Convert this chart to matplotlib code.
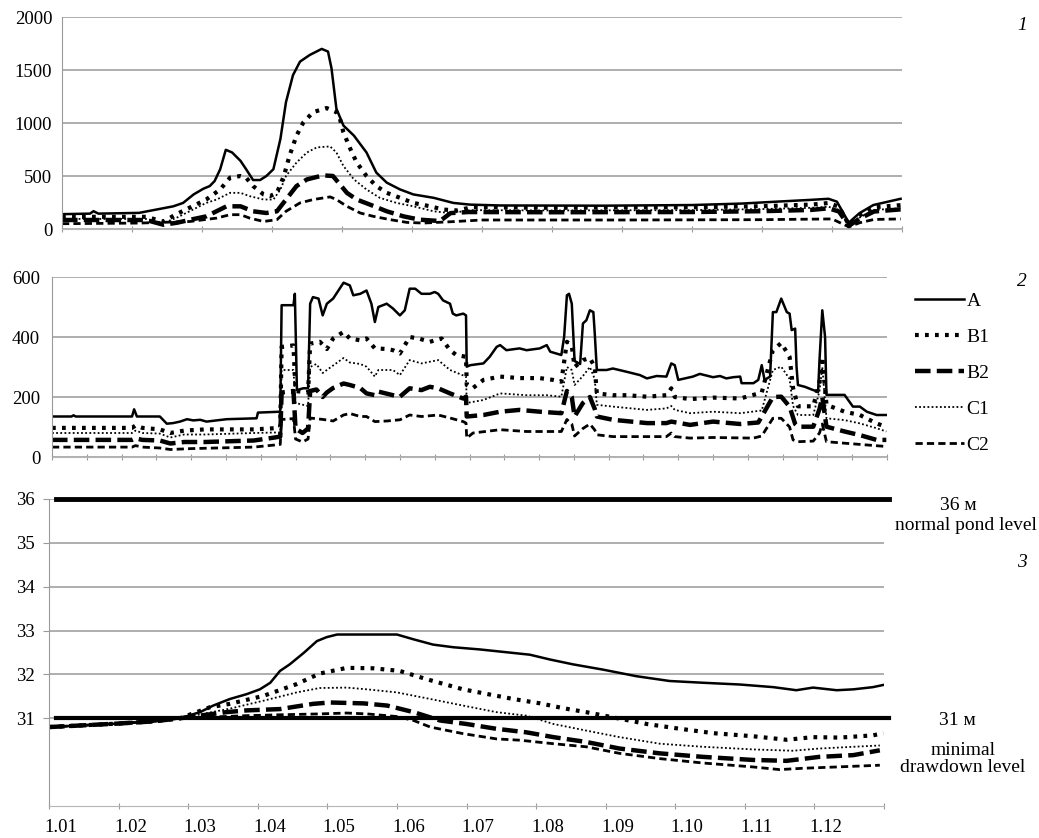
import matplotlib.pyplot as plt
from matplotlib.lines import Line2D

plt.rcParams['font.family'] = ['Liberation Serif', 'DejaVu Serif']
plt.rcParams['font.size'] = 13

# x in months from 1 January (0 .. 12)
month_labels = ['1.01', '1.02', '1.03', '1.04', '1.05', '1.06',
                '1.07', '1.08', '1.09', '1.10', '1.11', '1.12']

# ---- panel 1 : flow, m3/s ----
top_A = [(0, 140), (0.40, 145), (0.45, 168), (0.52, 145), (1.10, 152), (1.59, 214), (1.73, 246),
         (1.88, 326), (2.02, 380), (2.11, 405), (2.18, 452), (2.26, 564), (2.34, 747), (2.43, 722),
         (2.55, 643), (2.63, 564), (2.73, 462), (2.83, 462), (2.92, 500), (3.02, 564), (3.12, 849),
         (3.20, 1198), (3.30, 1452), (3.40, 1579), (3.54, 1642), (3.71, 1699), (3.80, 1674),
         (3.85, 1516), (3.92, 1135), (4.02, 976), (4.17, 881), (4.35, 722), (4.49, 532), (4.64, 437),
         (4.83, 373), (5.02, 326), (5.31, 294), (5.59, 246), (5.83, 230), (6.26, 222), (7.74, 220),
         (9.0, 226), (9.71, 240), (10.21, 258), (10.70, 275), (10.95, 285), (11.07, 258),
         (11.24, 60), (11.39, 148), (11.59, 226), (11.98, 285)]
top_B1 = [(0, 115), (1.2, 115), (1.45, 70), (1.62, 135), (2.06, 278), (2.26, 373), (2.40, 484),
          (2.55, 500), (2.63, 484), (2.73, 405), (2.88, 326), (2.97, 310), (3.07, 341), (3.17, 500),
          (3.25, 690), (3.35, 881), (3.45, 1008), (3.59, 1103), (3.78, 1141), (3.92, 1103),
          (3.97, 1040), (4.02, 913), (4.12, 754), (4.21, 627), (4.35, 500), (4.49, 405), (4.64, 341),
          (4.83, 294), (5.02, 246), (5.26, 214), (5.45, 183), (5.65, 175), (5.85, 205), (7.0, 200),
          (9.0, 205), (10.0, 215), (10.7, 230), (10.95, 245), (11.1, 210), (11.24, 40), (11.4, 130),
          (11.6, 205), (11.98, 225)]
top_B2 = [(0, 85), (1.2, 85), (1.45, 40), (1.65, 60), (1.85, 90), (2.06, 119), (2.35, 214),
          (2.55, 214), (2.73, 167), (2.92, 151), (3.07, 167), (3.20, 278), (3.35, 405), (3.50, 468),
          (3.73, 506), (3.87, 500), (3.97, 421), (4.07, 341), (4.21, 278), (4.40, 230), (4.64, 167),
          (4.88, 119), (5.11, 88), (5.40, 75), (5.55, 150), (5.8, 160), (7.0, 158), (9.0, 160),
          (10.0, 168), (10.7, 180), (10.95, 195), (11.1, 165), (11.24, 30), (11.4, 100),
          (11.6, 165), (11.98, 185)]
top_C1 = [(0, 95), (1.2, 95), (1.45, 55), (1.65, 110), (2.06, 246), (2.21, 278), (2.40, 341),
          (2.55, 341), (2.68, 310), (2.88, 278), (3.02, 278), (3.12, 373), (3.20, 500), (3.35, 627),
          (3.50, 722), (3.64, 770), (3.83, 779), (3.92, 722), (4.02, 595), (4.17, 468), (4.35, 373),
          (4.54, 294), (4.78, 246), (5.02, 214), (5.31, 167), (5.55, 150), (5.85, 178), (7.0, 175),
          (9.0, 178), (10.0, 188), (10.7, 200), (10.95, 210), (11.1, 180), (11.24, 35), (11.4, 110),
          (11.6, 180), (11.98, 195)]
top_C2 = [(0, 50), (1.11, 56), (1.83, 71), (2.21, 103), (2.40, 135), (2.55, 135), (2.68, 103),
          (2.88, 71), (3.07, 88), (3.20, 167), (3.40, 246), (3.59, 278), (3.83, 303), (3.92, 278),
          (4.07, 214), (4.26, 151), (4.45, 119), (4.69, 88), (4.93, 62), (5.16, 56), (5.6, 70),
          (6.0, 85), (8.0, 85), (10.0, 88), (11.0, 95), (11.24, 20), (11.4, 60), (11.6, 90),
          (11.98, 95)]

# ---- panel 2 : flow, m3/s ----
mid_A = [(0, 135), (0.28, 135), (0.31, 139), (0.34, 135), (1.15, 135), (1.18, 159), (1.22, 135),
         (1.55, 135), (1.65, 111), (1.74, 113), (1.84, 118), (1.94, 126), (2.03, 122), (2.13, 124),
         (2.22, 118), (2.51, 126), (2.94, 129), (2.96, 148), (3.28, 151), (3.30, 506), (3.47, 506),
         (3.49, 544), (3.52, 223), (3.61, 229), (3.68, 229), (3.71, 511), (3.75, 533), (3.83, 528),
         (3.89, 472), (3.95, 511), (4.04, 528), (4.19, 581), (4.28, 572), (4.33, 539), (4.43, 544),
         (4.52, 555), (4.59, 511), (4.64, 450), (4.69, 500), (4.81, 511), (4.90, 495), (5.00, 472),
         (5.07, 489), (5.14, 561), (5.22, 561), (5.31, 544), (5.43, 544), (5.50, 550), (5.55, 544),
         (5.62, 522), (5.72, 511), (5.76, 478), (5.81, 472), (5.91, 478), (5.95, 472), (5.96, 301),
         (6.01, 306), (6.20, 312), (6.29, 334), (6.39, 367), (6.44, 373), (6.53, 356), (6.72, 362),
         (6.82, 356), (7.01, 362), (7.11, 373), (7.16, 351), (7.32, 340), (7.36, 400), (7.40, 539),
         (7.43, 544), (7.47, 511), (7.51, 320), (7.59, 310), (7.63, 445), (7.68, 456), (7.73, 489),
         (7.78, 483), (7.80, 412), (7.83, 290), (7.97, 290), (8.06, 295), (8.26, 284), (8.45, 273),
         (8.55, 262), (8.69, 270), (8.83, 268), (8.90, 312), (8.95, 306), (9.00, 257), (9.21, 268),
         (9.31, 277), (9.50, 266), (9.60, 270), (9.69, 262), (9.79, 266), (9.89, 268), (9.91, 246),
         (10.08, 246), (10.15, 257), (10.20, 306), (10.24, 257), (10.32, 268), (10.36, 483),
         (10.41, 483), (10.48, 528), (10.56, 483), (10.60, 478), (10.63, 423), (10.68, 428),
         (10.70, 301), (10.72, 240), (10.82, 234), (10.94, 223), (11.01, 218), (11.03, 323),
         (11.07, 489), (11.11, 400), (11.13, 207), (11.39, 207), (11.51, 168), (11.61, 168),
         (11.71, 151), (11.85, 140), (11.99, 140)]
mid_B1 = [(0, 97), (1.15, 97), (1.20, 105), (1.3, 97), (1.55, 92), (1.70, 80), (1.9, 88), (2.2, 92),
          (2.9, 92), (3.28, 97), (3.30, 367), (3.47, 372), (3.50, 220), (3.68, 215), (3.71, 378),
          (3.85, 384), (3.95, 360), (4.04, 395), (4.19, 417), (4.28, 395), (4.43, 389), (4.52, 395),
          (4.64, 362), (4.81, 360), (4.90, 356), (5.00, 345), (5.14, 400), (5.27, 395), (5.43, 384),
          (5.60, 395), (5.72, 356), (5.81, 340), (5.95, 334), (5.96, 240), (6.05, 230), (6.20, 257),
          (6.44, 268), (6.72, 263), (7.01, 263), (7.20, 257), (7.32, 251), (7.40, 384), (7.47, 370),
          (7.51, 300), (7.63, 323), (7.73, 330), (7.80, 300), (7.83, 212), (8.06, 206), (8.26, 206),
          (8.55, 201), (8.83, 206), (8.90, 229), (8.95, 200), (9.17, 193), (9.50, 198), (9.89, 195),
          (10.08, 207), (10.20, 215), (10.36, 356), (10.48, 380), (10.60, 334), (10.65, 230),
          (10.72, 169), (10.94, 169), (11.03, 250), (11.07, 334), (11.13, 174), (11.39, 151),
          (11.61, 140), (11.85, 112), (11.99, 100)]
mid_B2 = [(0, 57), (1.15, 57), (1.2, 62), (1.3, 57), (1.55, 55), (1.70, 45), (1.9, 50), (2.2, 50),
          (2.9, 55), (3.2, 65), (3.28, 68), (3.30, 215), (3.47, 220), (3.50, 95), (3.60, 80),
          (3.68, 95), (3.71, 220), (3.80, 225), (3.89, 200), (3.95, 215), (4.04, 230), (4.19, 245),
          (4.28, 240), (4.43, 230), (4.52, 212), (4.64, 206), (4.69, 218), (4.90, 206), (5.00, 201),
          (5.14, 229), (5.31, 223), (5.43, 234), (5.55, 229), (5.72, 212), (5.91, 195), (5.95, 201),
          (5.96, 135), (6.20, 140), (6.44, 151), (6.72, 157), (7.01, 151), (7.32, 146), (7.40, 220),
          (7.47, 200), (7.51, 135), (7.63, 180), (7.73, 200), (7.80, 160), (7.83, 135), (8.06, 124),
          (8.55, 113), (8.83, 113), (8.90, 118), (9.17, 107), (9.50, 118), (9.89, 110),
          (10.15, 115), (10.36, 200), (10.48, 201), (10.60, 168), (10.68, 110), (10.72, 101),
          (10.94, 101), (11.03, 160), (11.07, 200), (11.13, 101), (11.39, 85), (11.61, 73),
          (11.85, 57), (11.99, 57)]
mid_C1 = [(0, 80), (1.15, 80), (1.2, 88), (1.3, 80), (1.55, 78), (1.7, 65), (1.9, 75), (2.2, 75),
          (2.9, 80), (3.28, 82), (3.30, 290), (3.47, 290), (3.50, 180), (3.68, 170), (3.71, 300),
          (3.80, 310), (3.89, 280), (3.95, 290), (4.19, 330), (4.28, 315), (4.43, 310), (4.52, 301),
          (4.64, 268), (4.69, 290), (4.90, 290), (5.00, 273), (5.14, 323), (5.31, 312), (5.55, 323),
          (5.72, 290), (5.95, 268), (5.96, 180), (6.20, 190), (6.44, 212), (6.82, 206), (7.11, 206),
          (7.32, 201), (7.40, 300), (7.47, 290), (7.51, 240), (7.63, 270), (7.73, 300), (7.80, 260),
          (7.83, 174), (8.06, 168), (8.55, 157), (8.83, 162), (8.90, 170), (8.95, 157), (9.17, 146),
          (9.50, 151), (9.89, 146), (10.20, 155), (10.36, 290), (10.48, 301), (10.60, 260),
          (10.65, 170), (10.72, 140), (10.94, 140), (11.03, 220), (11.07, 300), (11.13, 129),
          (11.39, 123), (11.61, 112), (11.85, 96), (11.99, 85)]
mid_C2 = [(0, 33), (1.15, 33), (1.2, 38), (1.3, 33), (1.55, 30), (1.70, 25), (2.0, 28), (2.9, 33),
          (3.2, 40), (3.28, 42), (3.30, 125), (3.47, 128), (3.50, 60), (3.60, 50), (3.68, 60),
          (3.71, 130), (3.90, 125), (4.04, 120), (4.19, 140), (4.28, 145), (4.43, 135), (4.52, 135),
          (4.64, 118), (4.81, 120), (5.00, 124), (5.14, 140), (5.31, 135), (5.55, 140), (5.72, 130),
          (5.91, 118), (5.95, 113), (5.96, 63), (6.05, 80), (6.44, 91), (6.82, 85), (7.32, 85),
          (7.40, 125), (7.47, 110), (7.51, 70), (7.63, 95), (7.73, 110), (7.80, 90), (7.83, 74),
          (8.06, 68), (8.55, 68), (8.83, 68), (8.90, 80), (8.95, 68), (9.17, 63), (9.50, 65),
          (10.08, 63), (10.20, 70), (10.36, 129), (10.48, 129), (10.60, 100), (10.65, 57),
          (10.72, 51), (10.94, 53), (11.03, 80), (11.07, 110), (11.13, 51), (11.39, 46),
          (11.61, 42), (11.99, 35)]

# ---- panel 3 : water level, m ----
low_A = [(0, 30.80), (0.5, 30.84), (1.0, 30.88), (1.5, 30.93), (1.88, 31.0), (2.17, 31.14),
         (2.36, 31.29), (2.60, 31.44), (2.84, 31.55), (3.03, 31.66), (3.18, 31.81), (3.32, 32.08),
         (3.46, 32.23), (3.66, 32.49), (3.85, 32.76), (3.99, 32.85), (4.14, 32.91), (5.0, 32.91),
         (5.24, 32.80), (5.52, 32.68), (5.81, 32.62), (6.19, 32.57), (6.67, 32.49), (6.91, 32.45),
         (7.20, 32.34), (7.53, 32.23), (7.96, 32.11), (8.44, 31.96), (8.92, 31.85), (9.40, 31.81),
         (9.93, 31.77), (10.41, 31.71), (10.74, 31.64), (10.98, 31.70), (11.32, 31.64),
         (11.56, 31.66), (11.84, 31.71), (11.99, 31.76)]
low_B1 = [(0, 30.80), (0.5, 30.84), (1.0, 30.88), (1.5, 30.93), (1.88, 31.0), (2.31, 31.25),
          (2.60, 31.33), (3.08, 31.51), (3.56, 31.78), (3.89, 32.02), (4.28, 32.15), (4.66, 32.14),
          (5.04, 32.08), (5.43, 31.89), (5.95, 31.66), (6.67, 31.44), (7.06, 31.34), (7.39, 31.23),
          (7.72, 31.14), (8.11, 31.02), (8.59, 30.87), (9.07, 30.76), (9.55, 30.66), (10.12, 30.59),
          (10.60, 30.51), (10.98, 30.57), (11.36, 30.56), (11.84, 30.61), (11.99, 30.66)]
low_B2 = [(0, 30.80), (0.5, 30.84), (1.0, 30.88), (1.5, 30.93), (1.88, 31.0), (2.55, 31.14),
          (2.84, 31.18), (3.32, 31.21), (3.80, 31.33), (4.04, 31.36), (4.52, 31.34), (4.86, 31.29),
          (5.24, 31.14), (5.62, 30.95), (6.0, 30.87), (6.43, 30.76), (6.86, 30.68), (7.25, 30.57),
          (7.72, 30.46), (8.20, 30.31), (8.78, 30.20), (9.40, 30.12), (10.12, 30.05), (10.60, 30.03),
          (11.07, 30.12), (11.56, 30.16), (11.94, 30.27)]
low_C1 = [(0, 30.80), (0.5, 30.84), (1.0, 30.88), (1.5, 30.93), (1.88, 31.0), (2.60, 31.22),
          (3.08, 31.40), (3.56, 31.59), (3.89, 31.69), (4.28, 31.70), (4.57, 31.66), (5.0, 31.59),
          (5.48, 31.44), (5.95, 31.29), (6.43, 31.14), (6.86, 31.06), (7.25, 30.87), (7.72, 30.72),
          (8.20, 30.57), (8.78, 30.42), (9.40, 30.35), (10.12, 30.29), (10.69, 30.26), (11.07, 30.31),
          (11.56, 30.35), (11.94, 30.38)]
low_C2 = [(0, 30.80), (0.5, 30.84), (1.0, 30.88), (1.5, 30.93), (1.88, 31.0), (2.84, 31.06),
          (3.32, 31.08), (3.89, 31.10), (4.28, 31.12), (4.57, 31.10), (5.0, 31.04), (5.24, 30.95),
          (5.48, 30.80), (5.95, 30.65), (6.43, 30.53), (6.77, 30.50), (7.25, 30.42), (7.72, 30.35),
          (8.20, 30.20), (8.78, 30.08), (9.40, 29.98), (10.12, 29.89), (10.50, 29.83),
          (10.83, 29.86), (11.32, 29.89), (11.94, 29.93)]

normal_level = 36
min_level = 31

names = ['A', 'B1', 'B2', 'C1', 'C2']
styles = {
    'A': dict(lw=1.8, ls='-'),
    'B1': dict(lw=3.0, ls=(0, (0.9, 1.5))),
    'B2': dict(lw=3.2, ls=(0, (3.5, 1.4))),
    'C1': dict(lw=1.3, ls=(0, (1, 1.3))),
    'C2': dict(lw=2.0, ls=(0, (2.6, 1.5))),
}

W, H = 1039, 838
fig = plt.figure(figsize=(W / 100, H / 100), dpi=100)


def box(left, right, top, bottom):
    return [left / W, 1 - bottom / H, (right - left) / W, (bottom - top) / H]


ax1 = fig.add_axes(box(62, 902, 17, 229))
ax2 = fig.add_axes(box(52, 887, 277, 457))
ax3 = fig.add_axes(box(49, 884, 499, 806))

grid_c = '#a8a8a8'
for ax in (ax1, ax2, ax3):
    for s in ('top', 'right'):
        ax.spines[s].set_visible(False)
    ax.spines['left'].set_color('#9a9a9a')
    ax.spines['bottom'].set_color('#b5b5b5')
    ax.yaxis.grid(True, color=grid_c, lw=1.3)
    ax.set_axisbelow(True)
    ax.set_xlim(0, 12)
    ax.tick_params(axis='x', direction='inout', length=5, color='#9a9a9a', labelbottom=False)
    ax.tick_params(axis='y', length=0, labelsize=13.5)


def draw(ax, series):
    for name, pts in zip(names, series):
        xs, ys = zip(*pts)
        ax.plot(xs, ys, color='black', label=name, **styles[name])


draw(ax1, [top_A, top_B1, top_B2, top_C1, top_C2])
ax1.set_ylim(0, 2000)
ax1.set_yticks([0, 500, 1000, 1500, 2000])
ax1.set_xticks(range(13))
ax1.tick_params(axis='y', pad=7)

draw(ax2, [mid_A, mid_B1, mid_B2, mid_C1, mid_C2])
ax2.set_ylim(0, 600)
ax2.set_yticks([0, 200, 400, 600])
ax2.set_xticks([i * 0.5 for i in range(25)])
ax2.tick_params(axis='y', pad=8.5)

draw(ax3, [low_A, low_B1, low_B2, low_C1, low_C2])
ax3.axhline(normal_level, xmin=0.008, xmax=1.006, color='black', lw=3.5, clip_on=False)
ax3.axhline(min_level, xmin=0.008, xmax=1.006, color='black', lw=3.0, clip_on=False)
ax3.set_ylim(29, 36)
ax3.set_yticks([31, 32, 33, 34, 35, 36])
ax3.tick_params(axis='y', length=4, direction='out', color='#9a9a9a', pad=6)
ax3.set_xticks(range(13))
ax3.set_xticks([i + 0.17 for i in range(12)], minor=True)
ax3.set_xticklabels(month_labels, minor=True)
ax3.tick_params(axis='x', which='minor', length=0, labelbottom=True, pad=9, labelsize=13.5)

handles = [Line2D([], [], color='black', **styles[n]) for n in names]
fig.legend(handles, names, loc='upper left', bbox_to_anchor=(915 / W, 1 - 292 / H),
           frameon=False, handlelength=2.5, handletextpad=0.15, labelspacing=0.95,
           fontsize=14, borderpad=0, borderaxespad=0)

for label, y in (('1', 25), ('2', 282), ('3', 562)):
    fig.text(1022 / W, 1 - y / H, label, style='italic', fontsize=14, ha='center', va='center')

fig.text(958 / W, 1 - 505 / H, '36 м', fontsize=14, ha='center', va='center')
fig.text(966 / W, 1 - 525 / H, 'normal pond level', fontsize=14, ha='center', va='center')
fig.text(957 / W, 1 - 720 / H, '31 м', fontsize=14, ha='center', va='center')
fig.text(963 / W, 1 - 759 / H, 'minimal\ndrawdown level', fontsize=14, ha='center',
         va='center', linespacing=1.0)

fig.savefig('out.png', dpi=100)
